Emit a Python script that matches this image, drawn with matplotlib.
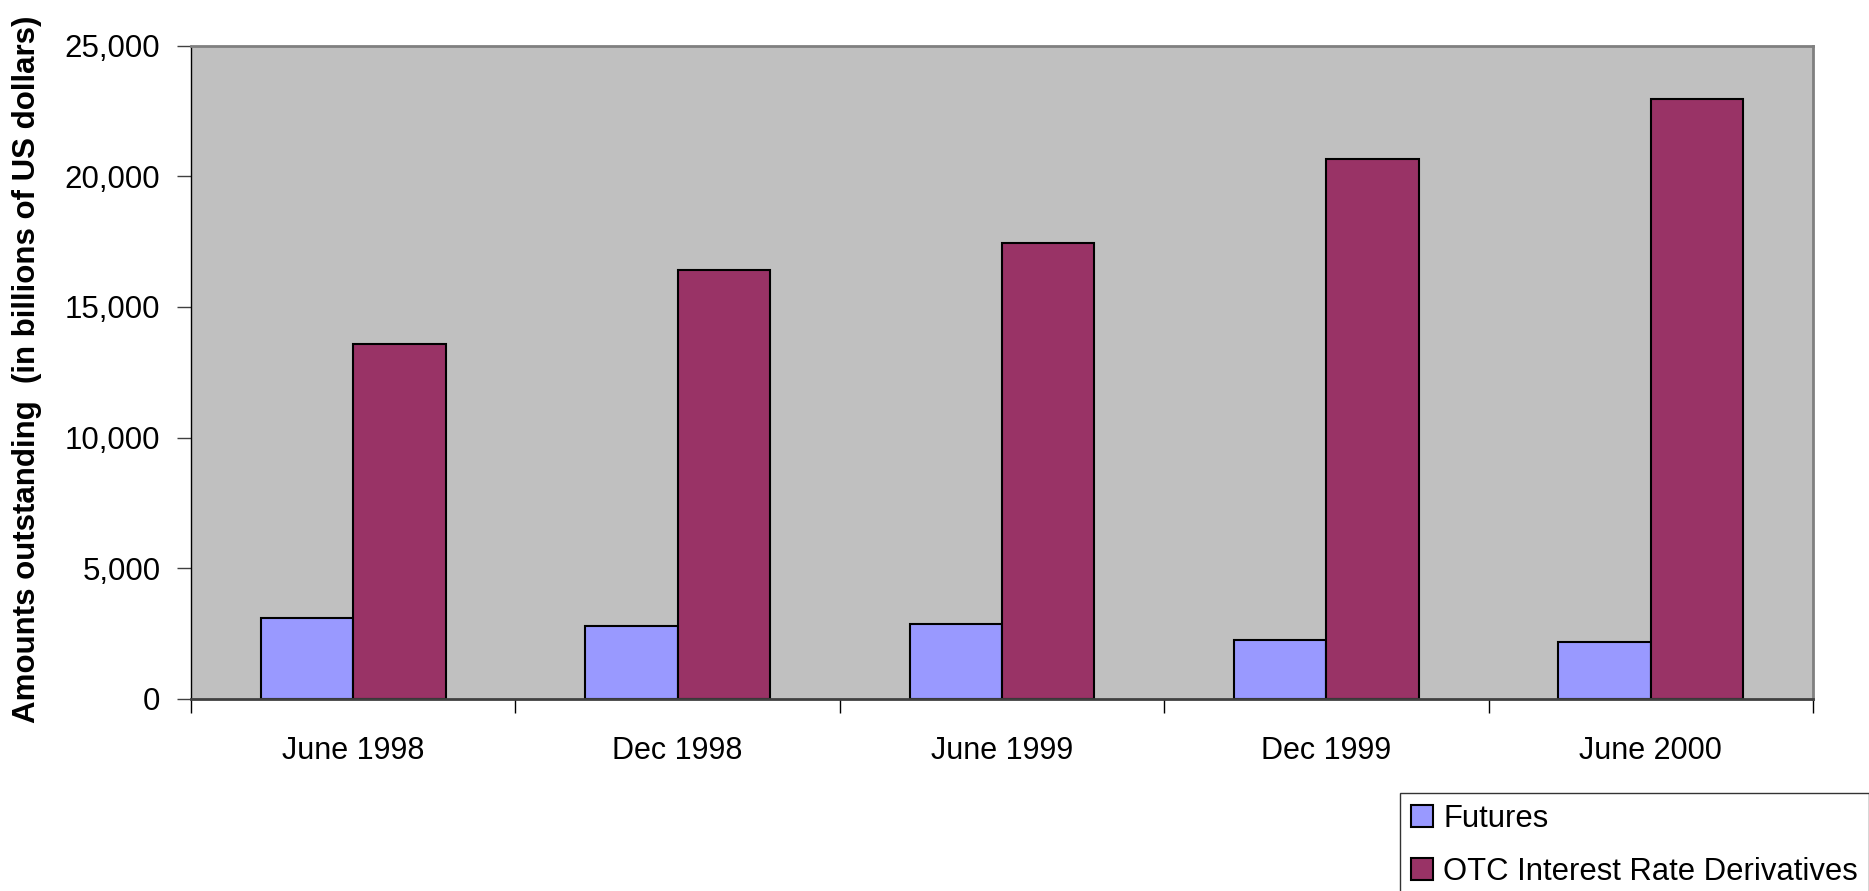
import numpy as np
import matplotlib
matplotlib.use("Agg")
import matplotlib.pyplot as plt
from matplotlib.ticker import FuncFormatter

plt.rcParams['font.family'] = ['Liberation Sans', 'DejaVu Sans']

periods = ['June 1998', 'Dec 1998', 'June 1999', 'Dec 1999', 'June 2000']
futures = [3110, 2800, 2880, 2270, 2190]
otc_rates = [13570, 16430, 17440, 20670, 22950]
series_names = ['Futures', 'OTC Interest Rate Derivatives']
colors = ['#9999FF', '#993366']

fig = plt.figure(figsize=(18.69, 8.91), dpi=100)
ax = fig.add_axes([0.1022, 0.2155, 0.8678, 0.7333])
ax.set_facecolor('#C0C0C0')

x = np.arange(len(periods))
w = 0.285
b1 = ax.bar(x - w / 2, futures, w, color=colors[0], edgecolor='black', linewidth=1.5, label=series_names[0])
b2 = ax.bar(x + w / 2, otc_rates, w, color=colors[1], edgecolor='black', linewidth=1.5, label=series_names[1])

ax.set_xlim(-0.5, len(periods) - 0.5)
ax.set_ylim(0, 25000)
ax.set_yticks(np.arange(0, 25001, 5000))
ax.yaxis.set_major_formatter(FuncFormatter(lambda v, p: f'{int(v):,}'))

# labels at centres, tick marks at the category boundaries
ax.set_xticks(x)
ax.set_xticklabels(periods)
ax.set_xticks(np.arange(-0.5, len(periods)), minor=True)
ax.tick_params(axis='x', which='major', length=0, pad=27, labelsize=22)
ax.tick_params(axis='x', which='minor', length=10, width=1, color='black', direction='out')
ax.tick_params(axis='y', length=10, width=1, color='#404040', pad=12, labelsize=22.5)

for side in ['top', 'right']:
    ax.spines[side].set_color('#808080')
    ax.spines[side].set_linewidth(2)
ax.spines['left'].set_color('black')
ax.spines['left'].set_linewidth(1)
ax.spines['bottom'].set_color('#404040')
ax.spines['bottom'].set_linewidth(2)

fig.text(27 / 1869, 1 - 369 / 891, 'Amounts outstanding  (in billions of US dollars)',
         rotation=90, ha='center', va='center', fontsize=22.5, fontweight='bold')

leg = fig.legend(handles=[b1, b2], loc='upper left', bbox_to_anchor=(1400 / 1869, 1 - 793 / 891),
                 fontsize=22.3, frameon=True, fancybox=False, edgecolor='black',
                 handlelength=0.7, handleheight=0.7, handletextpad=0.35,
                 borderpad=0.35, labelspacing=0.75, borderaxespad=0)
leg.get_frame().set_linewidth(1)

plt.savefig('out.png', dpi=100)
